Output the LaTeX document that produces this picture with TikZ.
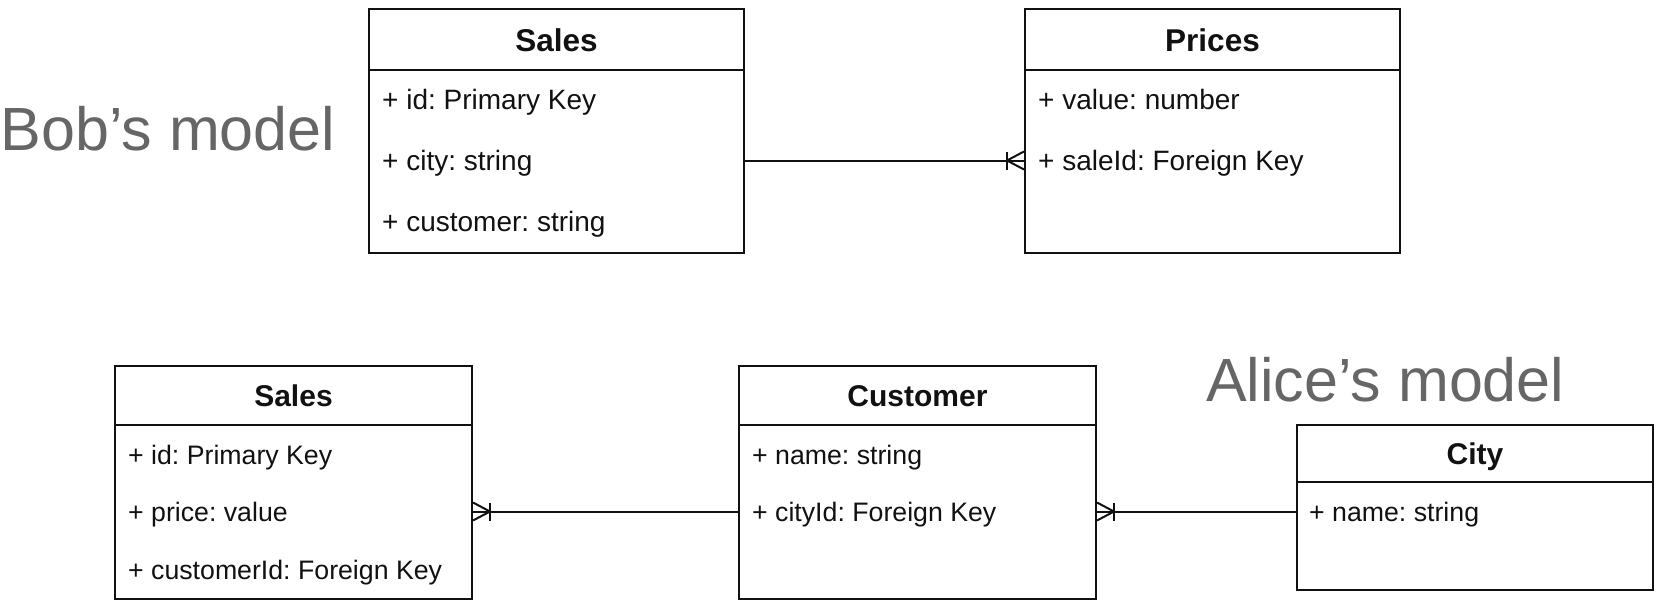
\documentclass[tikz,border=0pt]{standalone}
\usepackage{fontspec}
\setmainfont{Liberation Sans}
\usetikzlibrary{calc}
\definecolor{labelgray}{HTML}{666666}
\definecolor{ink}{HTML}{111111}
\newcommand\erfoot[2]{%
  \draw[conn] ($(#1)+(#2,-9)$) -- ($(#1)+(#2,9)$);
  \draw[conn] ($(#1)+(0,-9)$) -- ($(#1)+(#2,0)$) -- ($(#1)+(0,9)$);}
\begin{document}
\frenchspacing
\begin{tikzpicture}[x=1pt,y=-1pt,
  ebox/.style={draw=ink, line width=2pt, rectangle, inner sep=0pt, anchor=north west},
  headA/.style={ebox, font=\fontsize{31.5}{34}\selectfont\bfseries, text=ink, text height=23.6pt, text depth=0pt},
  headB/.style={ebox, font=\fontsize{30}{32}\selectfont\bfseries, text=ink, text height=22.5pt, text depth=0pt},
  rowA/.style={anchor=west, inner sep=0pt, text=ink, font=\fontsize{28}{30}\selectfont, text height=20pt, text depth=0pt},
  rowB/.style={anchor=west, inner sep=0pt, text=ink, font=\fontsize{26.7}{29}\selectfont, text height=19.1pt, text depth=0pt},
  conn/.style={draw=ink, line width=2pt, line join=round},
  biglabel/.style={anchor=base west, inner sep=0pt, text=labelgray, font=\fontsize{61}{64}\selectfont}
]
\useasboundingbox (0,0) rectangle (1660,606);

% ---------- Bob's model ----------
\node[biglabel] (bob) at (0.5,150) {Bob’s model};

\node[headA, minimum width=375pt, minimum height=61pt] (s1h) at (368,8) {Sales};
\node[ebox, minimum width=375pt, minimum height=183pt] (s1b) at (368,69) {};
\node[rowA] (s1r1) at (382,99.5) {+ id: Primary Key};
\node[rowA] (s1r2) at (382,160.5) {+ city: string};
\node[rowA] (s1r3) at (382,221.5) {+ customer: string};

\node[headA, minimum width=375pt, minimum height=61pt] (p1h) at (1024,8) {Prices};
\node[ebox, minimum width=375pt, minimum height=183pt] (p1b) at (1024,69) {};
\node[rowA] (p1r1) at (1038,99.5) {+ value: number};
\node[rowA] (p1r2) at (1038,160.5) {+ saleId: Foreign Key};

\coordinate (e1a) at (s1r2.west -| s1b.east);
\coordinate (e1b) at (p1r2.west -| p1b.west);
\draw[conn] (e1a) -- (e1b);
\erfoot{e1b}{-17}

% ---------- Alice's model ----------
\node[biglabel] (alice) at (1206,401) {Alice’s model};

\node[headB, minimum width=357pt, minimum height=59pt] (s2h) at (114,365) {Sales};
\node[ebox, minimum width=357pt, minimum height=174pt] (s2b) at (114,424) {};
\node[rowB] (s2r1) at (128,455) {+ id: Primary Key};
\node[rowB] (s2r2) at (128,511.5) {+ price: value};
\node[rowB] (s2r3) at (128,569.5) {+ customerId: Foreign Key};

\node[headB, minimum width=357pt, minimum height=59pt] (c2h) at (738,365) {Customer};
\node[ebox, minimum width=357pt, minimum height=174pt] (c2b) at (738,424) {};
\node[rowB] (c2r1) at (752,455) {+ name: string};
\node[rowB] (c2r2) at (752,511.5) {+ cityId: Foreign Key};

\node[headB, minimum width=356pt, minimum height=57pt] (t2h) at (1296,424) {City};
\node[ebox, minimum width=356pt, minimum height=108pt] (t2b) at (1296,481) {};
\node[rowB] (t2r1) at (1309,511.5) {+ name: string};

\coordinate (e2a) at (s2r2.west -| s2b.east);
\coordinate (e2b) at (c2r2.west -| c2b.west);
\draw[conn] (e2a) -- (e2b);
\erfoot{e2a}{17}

\coordinate (e3a) at (c2r2.west -| c2b.east);
\coordinate (e3b) at (t2r1.west -| t2b.west);
\draw[conn] (e3a) -- (e3b);
\erfoot{e3a}{17}
\end{tikzpicture}
\end{document}
